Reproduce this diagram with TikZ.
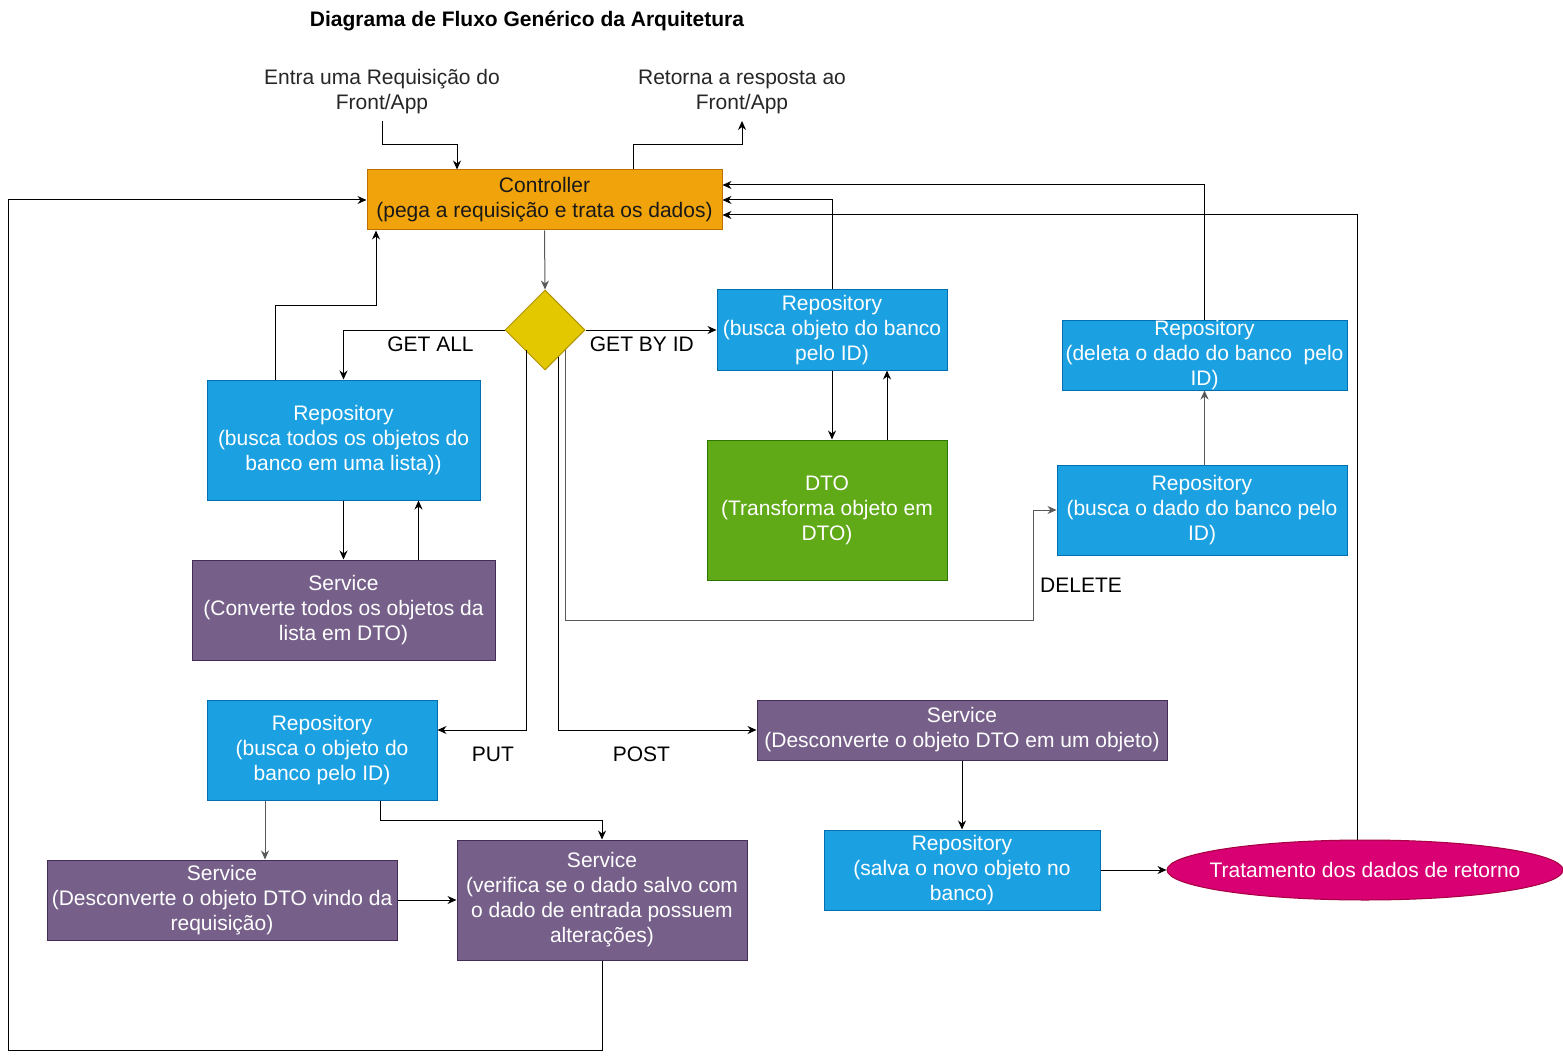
\documentclass[tikz,border=0pt]{standalone}
\usepackage{fontspec}
\setmainfont{Liberation Sans}
\usepackage{xcolor}
\usetikzlibrary{shapes.geometric,arrows.meta,positioning,calc}

\definecolor{cOrange}{HTML}{F0A30A}
\definecolor{cOrangeD}{HTML}{BD7000}
\definecolor{cYellow}{HTML}{E3C800}
\definecolor{cYellowD}{HTML}{B09500}
\definecolor{cBlue}{HTML}{1BA1E2}
\definecolor{cBlueD}{HTML}{006EAF}
\definecolor{cGreen}{HTML}{60A917}
\definecolor{cGreenD}{HTML}{2D7600}
\definecolor{cPurple}{HTML}{76608A}
\definecolor{cPurpleD}{HTML}{432D57}
\definecolor{cPink}{HTML}{D80073}
\definecolor{cPinkD}{HTML}{A50040}

\begin{document}
\begin{tikzpicture}[
  x=0.5pt, y=-0.5pt,
  every node/.style={font=\fontsize{10.5}{12.5}\selectfont},
  box/.style={rectangle, draw, line width=0.5pt, align=center, inner sep=0pt},
  ctrlbox/.style={box, fill=cOrange, draw=cOrangeD, text=black!90},
  repo/.style={box, fill=cBlue, draw=cBlueD, text=white},
  serv/.style={box, fill=cPurple, draw=cPurpleD, text=white},
  dtobox/.style={box, fill=cGreen, draw=cGreenD, text=white},
  lbl/.style={align=center, text=black!85},
  a/.style={-{Stealth[length=4.5pt,width=4pt]}, line width=0.5pt},
  ag/.style={a, draw=black!65}
]
\useasboundingbox (0,0) rectangle (1563,1059);

\node[font=\bfseries\fontsize{10.5}{12.5}\selectfont] (title) at (527,21) {Diagrama de Fluxo Genérico da Arquitetura};
\node[lbl] (entra) at (382,92) {Entra uma Requisição do\\Front/App};
\node[lbl] (ret) at (742,92) {Retorna a resposta ao\\Front/App};

\node[ctrlbox, minimum width=177.5pt, minimum height=30pt] (ctrl) at (544.5,200) {Controller\\(pega a requisição e trata os dados)};
\node[diamond, aspect=1, inner sep=0pt, minimum width=40pt, minimum height=40pt,
  fill=cYellow, draw=cYellowD, line width=0.5pt] (dec) at (545,330) {};

% GET BY ID
\node[repo, minimum width=115pt, minimum height=40pt] (rId) at (832,330) {Repository\\(busca objeto do banco\\pelo ID)};
\node[dtobox, minimum width=120pt, minimum height=70pt] (dto) at (827,510) {DTO\\(Transforma objeto em\\DTO)};

% DELETE
\node[repo, minimum width=142.5pt, minimum height=35pt] (rDel) at (1204.5,355) {Repository\\(deleta o dado do banco\ \ pelo\\ID)};
\node[repo, minimum width=145pt, minimum height=45pt] (rBus) at (1202,510) {Repository\\(busca o dado do banco pelo\\ID)};

% GET ALL
\node[repo, minimum width=136.5pt, minimum height=60pt] (rAll) at (343.5,440) {Repository\\(busca todos os objetos do\\banco em uma lista))};
\node[serv, minimum width=151.5pt, minimum height=50pt] (sAll) at (343.5,610) {Service\\(Converte todos os objetos da\\lista em DTO)};

% PUT
\node[repo, minimum width=115pt, minimum height=50pt] (rPut) at (322,750) {Repository\\(busca o objeto do\\banco pelo ID)};
\node[serv, minimum width=175pt, minimum height=40pt] (sDes) at (222,900) {Service\\(Desconverte o objeto DTO vindo da\\requisição)};
\node[serv, minimum width=145pt, minimum height=60pt] (sVer) at (602,900) {Service\\(verifica se o dado salvo com\\o dado de entrada possuem\\alterações)};

% POST
\node[serv, minimum width=205pt, minimum height=30pt] (sPost) at (962,730) {Service\\(Desconverte o objeto DTO em um objeto)};
\node[repo, minimum width=138pt, minimum height=40pt] (rSal) at (962,870) {Repository\\(salva o novo objeto no\\banco)};
\node[ellipse, inner ysep=0pt, inner xsep=-12pt, minimum width=198pt, minimum height=30pt,
  fill=cPink, draw=cPinkD, line width=0.5pt, text=white] (tr) at (1365,870) {Tratamento dos dados de retorno};

\coordinate (kIn) at (457,145);
\coordinate (kOut) at (633,145);
\coordinate (kAll) at (376,305);
\coordinate (kPut) at (602,820);
\coordinate (kDel) at (1033,620);
\coordinate (kLoop) at (8,1050);

\draw[a] (entra.south) |- (kIn) -- (kIn |- ctrl.north);
\draw[a] (kOut |- ctrl.north) -- (kOut) -| (ret.south);
\draw[ag] (ctrl.south) -- (dec.north);

\draw[a] (dec.west) -| node[pos=0.23, below]{GET ALL} (rAll.north);
\draw[a] (dec.east) -- node[pos=0.43, below]{GET BY ID} (rId.west);
\draw[a] ($(dec.south west)+(2,0)$) |- node[pos=0.69, below, yshift=-5pt]{PUT} ($(rPut.east)+(0,-20)$);
\draw[a] ($(dec.south east)!0.35!(dec.south)$) |- node[pos=0.71, below, yshift=-5pt]{POST} (sPost.west);
\draw[ag] (dec.south east) |- (kDel) |- node[pos=0.16, right]{DELETE} (rBus.west);

\draw[a] (rId.south) -- (rId.south |- dto.north);
\draw[a] ($(dto.north)+(60,0)$) -- ($(rId.south)+(55,0)$);
\draw[a] (rId.north) |- (ctrl.east);

\draw[a] (rAll.south) -- (sAll.north);
\draw[a] ($(sAll.north)+(75,0)$) -- ($(rAll.south)+(75,0)$);
\draw[a] ($(rAll.north)+(-68.5,0)$) |- (kAll) -- (kAll |- ctrl.south);

\draw[ag] (rDel.south |- rBus.north) -- (rDel.south);
\draw[a] (rDel.north) |- ($(ctrl.east)+(0,-15)$);

\draw[ag] ($(rPut.south)+(-57,0)$) -- ($(sDes.north)+(43,0)$);
\draw[a] ($(rPut.south)+(58,0)$) |- (kPut) -- (sVer.north);
\draw[a] (sDes.east) -- (sVer.west);
\draw[a] (sVer.south) |- (kLoop) |- (ctrl.west);

\draw[a] (sPost.south) -- (rSal.north);
\draw[a] (rSal.east) -- (tr.west);
\draw[a] ($(tr.north)+(-8,0)$) |- ($(ctrl.east)+(0,15)$);
\end{tikzpicture}
\end{document}
